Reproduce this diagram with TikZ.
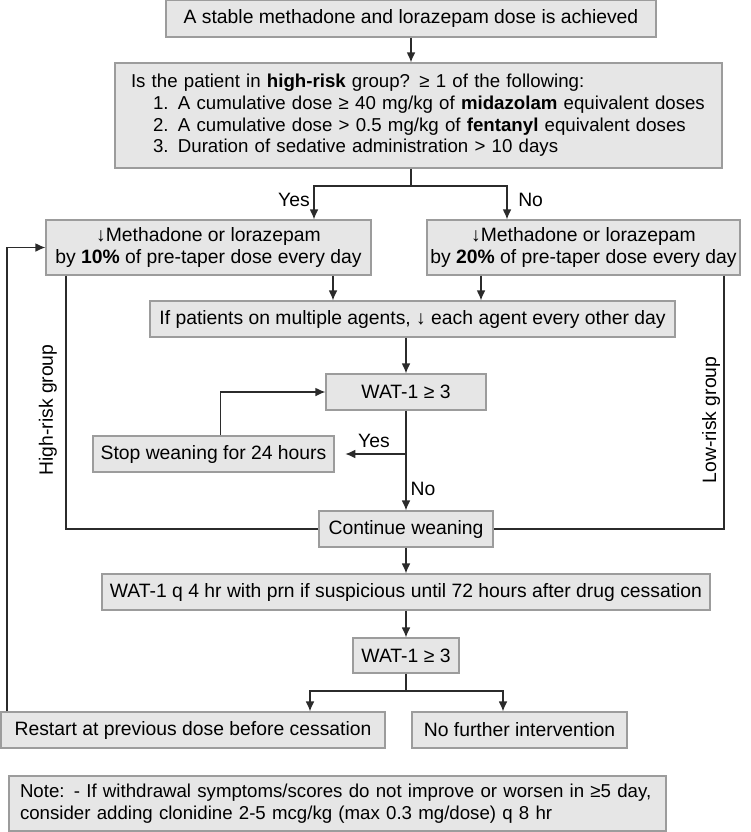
\documentclass[tikz,border=0pt]{standalone}
\usepackage{fontspec}
\setmainfont{Liberation Sans}
\usetikzlibrary{arrows.meta}
\usetikzlibrary{positioning}
\definecolor{boxfill}{HTML}{E6E6E6}
\definecolor{boxline}{HTML}{9C9C9C}
\definecolor{wirecol}{HTML}{2B2B2B}

\begin{document}
\begin{tikzpicture}[x=0.75pt,y=-0.75pt,
font=\fontsize{14.5}{16.3}\selectfont,
flowbox/.style={draw=boxline,fill=boxfill,line width=0.9pt,inner sep=0pt,align=center},
arr/.style={draw=wirecol,line width=0.9pt,-{Latex[length=7.5pt,width=6.5pt]}},
wire/.style={draw=wirecol,line width=0.9pt},
lbl/.style={inner sep=0pt}]
\useasboundingbox (0,0) rectangle (750,832);

% boxes
\node[flowbox,minimum width=367.5pt,minimum height=27.75pt] (top) at (411,18.5)
  {A stable methadone and lorazepam dose is achieved};
\node[flowbox,text width=431.25pt,inner xsep=12pt,minimum height=78.75pt,align=left,
      font=\fontsize{14}{16.3}\selectfont] (quest) at (418.5,115.5)
  {\mbox{Is the patient in \textbf{high-risk} group? ≥ 1 of the following:}\\
   \mbox{\hspace*{16.5pt}1. A cumulative dose ≥ 40 mg/kg of \textbf{midazolam} equivalent doses}\\
   \mbox{\hspace*{16.5pt}2. A cumulative dose > 0.5 mg/kg of \textbf{fentanyl} equivalent doses}\\
   \mbox{\hspace*{16.5pt}3. Duration of sedative administration > 10 days}};
\node[flowbox,minimum width=243.75pt,minimum height=41.25pt] (left) at (208.5,247.5)
  {↓Methadone or lorazepam\\by \textbf{10\%} of pre-taper dose every day};
\node[flowbox,minimum width=234.75pt,minimum height=41.25pt] (right) at (583.5,247.5)
  {↓Methadone or lorazepam\\by \textbf{20\%} of pre-taper dose every day};
\node[flowbox,minimum width=393.75pt,minimum height=27pt] (mid) at (412.5,319)
  {If patients on multiple agents, ↓ each agent every other day};
\node[flowbox,minimum width=120pt,minimum height=27pt] (wat1) at (406,392) {WAT-1 ≥ 3};
\node[flowbox,minimum width=180.75pt,minimum height=27pt] (stop) at (213.5,454) {Stop weaning for 24 hours};
\node[flowbox,minimum width=130.5pt,minimum height=27pt] (cont) at (406,529) {Continue weaning};
\node[flowbox,minimum width=456pt,minimum height=27pt] (q4) at (406,592)
  {WAT-1 q 4 hr with prn if suspicious until 72 hours after drug cessation};
\node[flowbox,minimum width=79.5pt,minimum height=26.25pt] (wat2) at (406,655.5) {WAT-1 ≥ 3};
\node[flowbox,minimum width=288pt,minimum height=27pt] (restart) at (193,730)
  {Restart at previous dose before cessation};
\node[flowbox,minimum width=161.25pt,minimum height=27pt] (nofurther) at (519.5,730)
  {No further intervention};
\node[flowbox,text width=476.25pt,inner xsep=8.25pt,minimum height=41.25pt,align=left,
      font=\fontsize{14}{16.5}\selectfont] (note) at (337.5,803.5)
  {\mbox{Note: - If withdrawal symptoms/scores do not improve or worsen in ≥5 day,}\\
   \mbox{consider adding clonidine 2-5 mcg/kg (max 0.3 mg/dose) q 8 hr}};

% labels
\node[lbl,anchor=east] (yes1) at (310,200) {Yes};
\node[lbl,anchor=west] (no1) at (518,200) {No};
\node[lbl] (yes2) at (374,441) {Yes};
\node[lbl] (no2) at (423,489) {No};
\node[lbl,rotate=90] (hrisk) at (48,410) {High-risk group};
\node[lbl,rotate=90] (lrisk) at (711,420) {Low-risk group};

% columns for connectors
\coordinate (qsplit) at (411,186);
\coordinate (yescol) at (314,186);
\coordinate (nocol) at (507,186);
\coordinate (lcol) at (333,0);
\coordinate (rcol) at (481,0);
\coordinate (ysplit) at (406,454);
\coordinate (hcol) at (66,0);
\coordinate (lowcol) at (724,0);
\coordinate (wsplit) at (406,691);
\coordinate (restcol) at (310,691);
\coordinate (nofcol) at (503,691);
\coordinate (backcol) at (7,0);

% connectors
\draw[arr] (top.south) -- (top.south |- quest.north);
\draw[wire] (qsplit |- quest.south) -- (qsplit);
\draw[arr] (qsplit) -| (yescol |- left.north);
\draw[arr] (qsplit) -| (nocol |- right.north);
\draw[arr] (left.south -| lcol) -- (mid.north -| lcol);
\draw[arr] (right.south -| rcol) -- (mid.north -| rcol);
\draw[arr] (mid.south -| wat1.north) -- (wat1.north);
\draw[arr] (wat1.south) -- (cont.north);
\draw[arr,shorten >=8pt] (ysplit) -- (stop.east);
\draw[arr] ([xshift=5.25pt]stop.north) |- (wat1.west);
\draw[wire] (left.south -| hcol) |- (cont.west);
\draw[wire] (right.south -| lowcol) |- (cont.east);
\draw[arr] (cont.south) -- (q4.north);
\draw[arr] (q4.south) -- (wat2.north);
\draw[wire] (wat2.south) -- (wsplit);
\draw[arr] (wsplit) -| (restcol |- restart.north);
\draw[arr] (wsplit) -| (nofcol |- nofurther.north);
\draw[arr] (restart.north -| backcol) |- (left.west);
\end{tikzpicture}
\end{document}
